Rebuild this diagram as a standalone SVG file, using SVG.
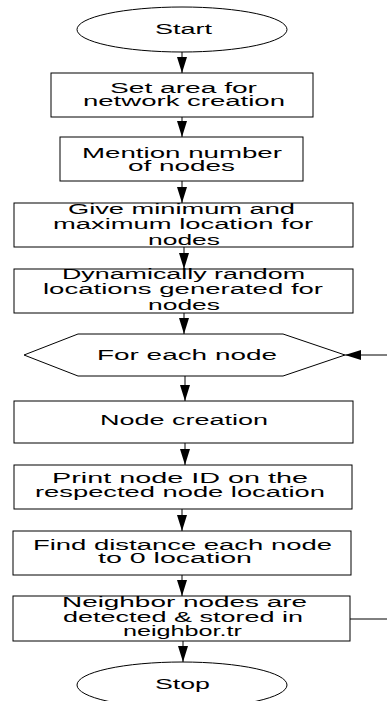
<svg xmlns="http://www.w3.org/2000/svg" width="387" height="701" viewBox="0 0 387 701">
<style>
.shape{fill:#fff;stroke:#000;stroke-width:1}
.conn{fill:none;stroke:#000;stroke-width:1}
text{font-family:"Liberation Sans",Arial,sans-serif;font-size:15.5px;fill:#000}
</style>
<defs>
<marker id="ah" markerUnits="userSpaceOnUse" markerWidth="16" markerHeight="10" refX="16" refY="5" orient="auto">
<path d="M0,0 L16,5 L0,10 z" fill="#000"/>
</marker>
</defs>
<rect width="387" height="701" fill="#fff"/>
<g id="connectors">
<line class="conn" x1="182" y1="52" x2="182" y2="73" marker-end="url(#ah)"/>
<line class="conn" x1="182" y1="117" x2="182" y2="137" marker-end="url(#ah)"/>
<line class="conn" x1="182" y1="181" x2="182" y2="203" marker-end="url(#ah)"/>
<line class="conn" x1="184" y1="247" x2="184" y2="269" marker-end="url(#ah)"/>
<line class="conn" x1="184" y1="313" x2="184" y2="334" marker-end="url(#ah)"/>
<line class="conn" x1="185" y1="376" x2="185" y2="401" marker-end="url(#ah)"/>
<line class="conn" x1="185" y1="443" x2="185" y2="465" marker-end="url(#ah)"/>
<line class="conn" x1="182" y1="509" x2="182" y2="531" marker-end="url(#ah)"/>
<line class="conn" x1="182" y1="575" x2="182" y2="596" marker-end="url(#ah)"/>
<line class="conn" x1="183" y1="641" x2="183" y2="662" marker-end="url(#ah)"/>
<line class="conn" x1="350" y1="619" x2="387" y2="619"/>
<line class="conn" x1="387" y1="355" x2="345" y2="355" marker-end="url(#ah)"/>
</g>
<g id="start">
<ellipse class="shape" cx="182" cy="29.5" rx="105" ry="22.5"/>
<text x="155" y="34" textLength="57" lengthAdjust="spacingAndGlyphs">Start</text>
</g>
<g id="set-area">
<rect class="shape" x="51" y="73" width="262" height="44"/>
<text x="110" y="92.5" textLength="147" lengthAdjust="spacingAndGlyphs">Set area for</text>
<text x="83" y="106" textLength="202" lengthAdjust="spacingAndGlyphs">network creation</text>
</g>
<g id="mention">
<rect class="shape" x="60" y="137" width="243" height="44"/>
<text x="82" y="157.5" textLength="200" lengthAdjust="spacingAndGlyphs">Mention number</text>
<text x="128" y="170.5" textLength="107" lengthAdjust="spacingAndGlyphs">of nodes</text>
</g>
<g id="min-max">
<rect class="shape" x="14" y="203" width="339" height="44"/>
<text x="68" y="214" textLength="227" lengthAdjust="spacingAndGlyphs">Give minimum and</text>
<text x="53" y="229" textLength="260" lengthAdjust="spacingAndGlyphs">maximum location for</text>
<text x="148" y="245" textLength="72" lengthAdjust="spacingAndGlyphs">nodes</text>
</g>
<g id="random">
<rect class="shape" x="14" y="269" width="339" height="44"/>
<text x="62" y="279" textLength="243" lengthAdjust="spacingAndGlyphs">Dynamically random</text>
<text x="43" y="294" textLength="280" lengthAdjust="spacingAndGlyphs">locations generated for</text>
<text x="148" y="310" textLength="72" lengthAdjust="spacingAndGlyphs">nodes</text>
</g>
<g id="for-each">
<polygon class="shape" points="24,355 78,334 283,334 345,355 283,376 78,376"/>
<text x="97" y="360" textLength="180" lengthAdjust="spacingAndGlyphs">For each node</text>
</g>
<g id="node-creation">
<rect class="shape" x="14" y="401" width="339" height="42"/>
<text x="100" y="425" textLength="168" lengthAdjust="spacingAndGlyphs">Node creation</text>
</g>
<g id="print-id">
<rect class="shape" x="14" y="465" width="338" height="44"/>
<text x="52" y="483" textLength="256" lengthAdjust="spacingAndGlyphs">Print node ID on the</text>
<text x="35" y="497" textLength="290" lengthAdjust="spacingAndGlyphs">respected node location</text>
</g>
<g id="distance">
<rect class="shape" x="13" y="531" width="338" height="44"/>
<text x="33" y="550" textLength="299" lengthAdjust="spacingAndGlyphs">Find distance each node</text>
<text x="98" y="563" textLength="154" lengthAdjust="spacingAndGlyphs">to 0 location</text>
</g>
<g id="neighbor">
<rect class="shape" x="13" y="596" width="337" height="45"/>
<text x="62" y="607" textLength="245" lengthAdjust="spacingAndGlyphs">Neighbor nodes are</text>
<text x="63" y="622" textLength="240" lengthAdjust="spacingAndGlyphs">detected &amp; stored in</text>
<text x="123" y="636" textLength="119" lengthAdjust="spacingAndGlyphs">neighbor.tr</text>
</g>
<g id="stop">
<ellipse class="shape" cx="182" cy="685" rx="105" ry="23"/>
<text x="155" y="689" textLength="55" lengthAdjust="spacingAndGlyphs">Stop</text>
</g>
</svg>
